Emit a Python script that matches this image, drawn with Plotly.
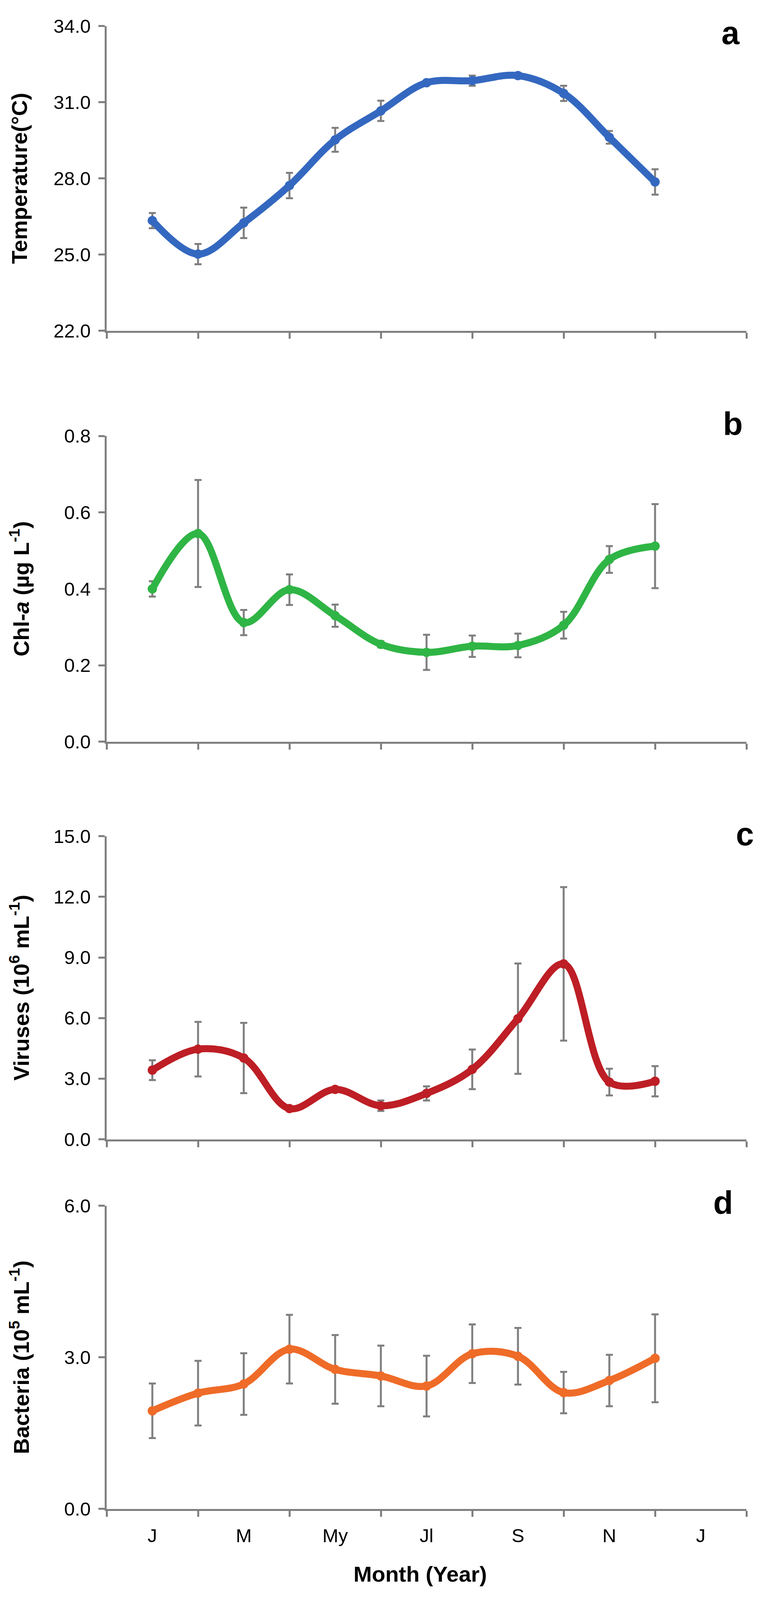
import plotly.graph_objects as go

# The browser viewport is only 4096 px tall, so the 4798 px tall reference layout
# is squeezed vertically to fit; the body also has an 8 px margin.
REF_H = 4798
VIEW_H = 4096
K = VIEW_H / REF_H
OFF = 8
W, H = 1938 - 2 * OFF, VIEW_H - 2 * OFF

# data
months = ["J", "F", "M", "A", "My", "Jn", "Jl", "Ag", "S", "O", "N", "D"]
tick_labels = ["J", "M", "My", "Jl", "S", "N", "J"]
tick_pos = [1, 3, 5, 7, 9, 11, 13]

temperature = [26.34, 25.02, 26.25, 27.72, 29.52, 30.66, 31.77, 31.85, 32.05, 31.35, 29.62, 27.86]
temperature_err = [0.3, 0.4, 0.6, 0.5, 0.47, 0.4, 0.08, 0.2, 0.1, 0.3, 0.25, 0.5]

chla = [0.400, 0.545, 0.312, 0.398, 0.330, 0.255, 0.234, 0.250, 0.252, 0.305, 0.477, 0.512]
chla_err = [0.02, 0.14, 0.033, 0.04, 0.029, 0.008, 0.046, 0.028, 0.031, 0.035, 0.035, 0.11]

viruses = [3.42, 4.46, 4.02, 1.52, 2.47, 1.66, 2.27, 3.46, 5.97, 8.68, 2.83, 2.87]
viruses_err = [0.49, 1.35, 1.74, 0.1, 0.05, 0.26, 0.35, 0.98, 2.73, 3.8, 0.66, 0.75]

bacteria = [1.94, 2.29, 2.47, 3.16, 2.76, 2.63, 2.43, 3.07, 3.02, 2.30, 2.54, 2.98]
bacteria_err = [0.54, 0.64, 0.61, 0.68, 0.68, 0.6, 0.6, 0.58, 0.56, 0.41, 0.51, 0.87]

FONT = "Liberation Sans, Arial, sans-serif"
GREY = "#7f7f7f"
FS = 0.94  # slight font shrink to go with the vertical squeeze


def px_x(x):
    return (x - OFF) / W


def px_y(y):
    # y in reference pixels
    return 1 - (y * K - OFF) / H


# letter, values, errors, colour, y range, title, plot top/bottom (ref px), letter position (ref px)
panels = [
    ("a", temperature, temperature_err, "#3468c0", [22, 34],
     "Temperature(°C)", (47, 973), (1870, 68)),
    ("b", chla, chla_err, "#2fb545", [0, 0.8],
     "Chl-<i>a</i> (µg L<sup>-1</sup>)", (1293, 2222), (1876, 1257)),
    ("c", viruses, viruses_err, "#be1e25", [0, 15],
     "Viruses (10<sup>6</sup> mL<sup>-1</sup>)", (2509, 3430), (1907, 2503)),
    ("d", bacteria, bacteria_err, "#ef6b28", [0, 6],
     "Bacteria (10<sup>5</sup> mL<sup>-1</sup>)", (3632, 4553), (1851, 3624)),
]

x = list(range(1, len(months) + 1))
x_left, x_right = 273, 1911

fig = go.Figure()
annotations = []
layout = {}

for i, (letter, vals, errs, color, yr, title, (top, bottom), (lx, ly)) in enumerate(panels):
    n = "" if i == 0 else str(i + 1)
    xa, ya = "x" + n, "y" + n
    last = i == len(panels) - 1

    # error bars first so that the curve sits on top of them
    fig.add_trace(go.Scatter(
        x=x, y=vals, xaxis=xa, yaxis=ya, mode="markers",
        marker=dict(size=1, color="rgba(0,0,0,0)"),
        error_y=dict(type="data", array=errs, visible=True, color=GREY,
                     thickness=5, width=9),
        hoverinfo="skip", showlegend=False,
    ))
    fig.add_trace(go.Scatter(
        x=x, y=vals, xaxis=xa, yaxis=ya, mode="lines+markers",
        line=dict(color=color, width=18, shape="spline", smoothing=1.0),
        marker=dict(color=color, size=24),
        text=months, showlegend=False,
    ))

    dtick = (yr[1] - yr[0]) / 4 if letter == "b" else 3
    layout["xaxis" + n] = dict(
        domain=[px_x(x_left), px_x(x_right)], anchor=ya, range=[0, 14],
        tickmode="array",
        tickvals=tick_pos if last else [], ticktext=tick_labels if last else [],
        ticks="", showticklabels=last, ticklabelstandoff=22,
        tickfont=dict(family=FONT, size=52 * FS, color="black"),
        showline=True, linecolor=GREY, linewidth=5, showgrid=False, zeroline=False,
        minor=dict(ticks="outside", ticklen=15, tickwidth=5, tickcolor=GREY,
                   tick0=0, dtick=2, showgrid=False),
    )
    layout["yaxis" + n] = dict(
        domain=[px_y(bottom), px_y(top)], anchor=xa, range=yr,
        tick0=yr[0], dtick=dtick, tickformat=".1f",
        ticks="outside", ticklen=16, tickwidth=5, tickcolor=GREY,
        ticklabelstandoff=10,
        tickfont=dict(family=FONT, size=52 * FS, color="black"),
        showline=True, linecolor=GREY, linewidth=5, showgrid=False, zeroline=False,
    )

    annotations.append(dict(
        text="<b>" + title + "</b>", xref="paper", yref="paper",
        x=px_x(50), y=px_y((top + bottom) / 2), xanchor="center", yanchor="middle",
        textangle=-90, showarrow=False, font=dict(family=FONT, size=60 * FS, color="black"),
    ))
    annotations.append(dict(
        text="<b>" + letter + "</b>", xref="paper", yref="paper",
        x=px_x(lx), y=px_y(ly), xanchor="center", yanchor="middle",
        showarrow=False, font=dict(family=FONT, size=88 * FS, color="black"),
    ))

annotations.append(dict(
    text="<b>Month (Year)</b>", xref="paper", yref="paper",
    x=px_x(1075), y=px_y(4751), xanchor="center", yanchor="middle",
    showarrow=False, font=dict(family=FONT, size=60 * FS, color="black"),
))

fig.update_layout(
    width=W, height=H,
    margin=dict(l=0, r=0, t=0, b=0),
    paper_bgcolor="white", plot_bgcolor="white",
    annotations=annotations,
    **layout,
)

fig.write_html("out.html")
